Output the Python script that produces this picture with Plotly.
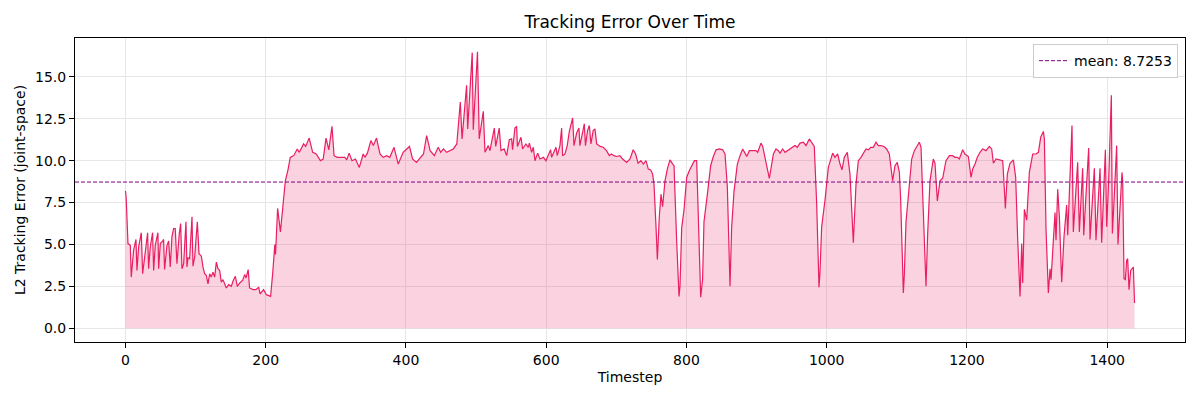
import plotly.graph_objects as go

timesteps = [
    0, 1, 3.6, 6.9, 8.3, 11.6, 15, 16.4, 18.8, 22.6, 24.5, 28.3, 31.6, 33, 35.4, 38.7, 40.2, 42.5, 46.3, 47.3,
    49.7, 53, 54.4, 55.8, 59.2, 61.6, 63.9, 66.3, 68.7, 71, 73.4, 76.8, 78.7, 80.6, 83, 86.3, 87.7, 89.2, 91.5, 94.9,
    96.3, 98.7, 102.5, 104.9, 108.2, 110.6, 112.9, 115.3, 117.7, 120.1, 122.4, 124.8, 127.2, 129.6, 131.9, 134.3, 136.7, 139.1, 143.8, 147.2,
    151, 153.3, 156.7, 159.5, 163, 167, 170, 172, 175, 177, 182, 186, 190, 192, 197, 201, 207, 210, 213, 214,
    217, 221, 225, 228, 232, 235, 240, 245, 248, 254, 257, 262, 267, 272, 278, 282, 286, 290, 294.5, 297.5,
    302, 306, 313, 315.5, 319, 323, 328, 333.5, 339, 341.5, 345, 350, 353.5, 358, 363, 367.5, 372.5, 377, 383, 389,
    396, 405, 409.5, 415, 425, 429.5, 434.5, 440.5, 446, 449.5, 453.5, 458, 463, 467.5, 472.5, 477.5, 480, 486.5, 488, 494.5,
    496, 502, 504.5, 510.3, 512.7, 517.4, 519.8, 526, 528, 533, 535.5, 540, 543.6, 547.4, 550.7, 552, 555.4, 557.8, 559, 564,
    566.4, 571, 574.5, 576, 579.2, 581.6, 584, 587.8, 591, 596, 599.6, 603, 606.3, 607.7, 611, 614, 615.8, 619.6, 622, 623.4,
    626.8, 630, 633, 637.7, 639.6, 643.4, 646.7, 648, 652, 654.3, 656, 659, 661.5, 663.8, 667, 669.5, 672, 677, 681.4, 686,
    690, 693, 696.6, 700.4, 705, 709, 714.7, 719.5, 724, 727.5, 731, 735, 738.5, 742.3, 745.6, 749, 751.8, 753.7, 756.6, 758.5,
    761.3, 763.7, 766, 769.4, 772.7, 776.5, 780.4, 782.3, 786, 789.4, 790.8, 793.2, 796.5, 800.3, 804, 807.5, 811.3, 814.6, 817, 820.3,
    823, 825, 830, 834.5, 838.3, 842.2, 847, 851.7, 855, 858.3, 862.1, 864.5, 867.8, 872.6, 876.4, 880.2, 883.5, 886, 889.7, 894.5,
    899.2, 901.6, 906.3, 908.7, 911, 914.4, 918.2, 921.5, 924, 927.7, 931, 933.4, 937.2, 940.6, 945.3, 950, 954.8, 958, 962, 966.7,
    970.5, 975.2, 978.5, 982.3, 985.7, 989, 990.4, 992.8, 997.6, 1002.3, 1005.6, 1008.5, 1011.8, 1015.6, 1019, 1021.8, 1025.1, 1029.4, 1033.2, 1038,
    1041.8, 1045.1, 1048.9, 1052.2, 1056, 1059.4, 1062.7, 1066.5, 1070.3, 1073.6, 1077.4, 1081.7, 1085.5, 1089.3, 1091.2, 1094, 1097.4, 1100.7, 1103.6, 1105.5,
    1109.3, 1110.7, 1113.1, 1116.9, 1121.2, 1125, 1128.3, 1132.1, 1134.5, 1137.8, 1141.6, 1144, 1147.3, 1152, 1154.4, 1157.8, 1161.6, 1165.4, 1170.1, 1174.9,
    1179.6, 1183, 1186.3, 1189.1, 1193.9, 1197.2, 1202, 1205.8, 1208.2, 1211.5, 1214.8, 1218.6, 1222.5, 1227.2, 1232, 1235.3, 1237.7, 1241.5, 1247.2, 1251,
    1253.4, 1254.8, 1257.6, 1261.4, 1266.2, 1269.5, 1272.4, 1275.7, 1278.1, 1279.5, 1281.9, 1285.2, 1289, 1293.8, 1298.5, 1301.9, 1305.2, 1309, 1310.4, 1312.8,
    1316.1, 1318.5, 1319.9, 1323.2, 1325.6, 1327, 1329.4, 1331.8, 1335.1, 1338.4, 1342.2, 1343.7, 1347, 1349.8, 1351.7, 1354.1, 1357.9, 1360.3, 1362.7, 1365,
    1366.5, 1369.8, 1373.6, 1375.5, 1379.3, 1381.7, 1384, 1387.4, 1389.8, 1392.1, 1394.5, 1397.4, 1399.3, 1402.1, 1405.9, 1407.4, 1410.2, 1413.5, 1415.4, 1418.3,
    1421.1, 1422.1, 1424, 1425.9, 1427.8, 1429.2, 1431.1, 1433.5, 1435.4, 1437.3, 1439,
]

errors = [
    8.2, 7.8, 5.05, 4.95, 3.05, 4.65, 5.3, 3.45, 4.85, 5.7, 3.25, 4.65, 5.7, 3.55, 4.85, 5.7, 3.45, 4.95, 5.7, 3.55,
    5.05, 5.2, 5.3, 3.5, 4.95, 5.2, 3.65, 5.45, 5.95, 5.95, 3.85, 5.65, 6.25, 3.55, 3.85, 6.35, 3.65, 4.2, 4.15, 6.65,
    3.7, 4.25, 6.35, 4.45, 4.3, 3.65, 3.25, 3.15, 2.65, 3.25, 3.05, 3.35, 3.05, 3.95, 3.55, 3.45, 2.75, 2.9, 2.4, 2.6,
    2.5, 2.8, 3.1, 2.5, 2.7, 2.85, 3.2, 3.0, 3.5, 2.4, 2.3, 2.3, 2.45, 2.05, 2.3, 2.0, 1.9, 3.3, 5.0, 4.4,
    7.15, 5.75, 7.6, 8.8, 9.5, 10.2, 10.3, 10.7, 10.5, 11.0, 10.85, 11.35, 10.5, 10.4, 10.0, 10.1, 11.35, 10.65, 12.05, 10.3,
    10.2, 10.2, 10.2, 10.05, 10.45, 10.0, 10.1, 9.6, 10.4, 10.2, 10.45, 11.2, 10.9, 11.35, 10.4, 10.2, 10.3, 10.2, 10.8, 9.8,
    10.5, 10.85, 10.1, 9.9, 10.4, 11.5, 10.6, 10.3, 10.8, 10.5, 10.7, 10.5, 10.6, 10.7, 11.0, 13.5, 11.3, 14.5, 11.9, 16.45,
    11.85, 16.5, 11.3, 12.95, 10.5, 10.9, 10.6, 11.95, 10.85, 11.95, 10.6, 10.7, 10.3, 11.25, 11.3, 10.65, 11.95, 12.05, 10.85, 11.4,
    10.7, 11.0, 10.8, 11.05, 10.5, 10.8, 10.0, 10.45, 10.1, 10.2, 10.0, 10.3, 10.65, 10.2, 10.5, 10.8, 10.3, 10.9, 11.95, 10.3,
    10.4, 10.9, 11.75, 12.55, 10.9, 11.65, 11.95, 10.9, 11.7, 12.2, 10.9, 11.8, 12.1, 11.0, 11.8, 11.9, 11.0, 10.85, 10.8, 10.6,
    10.3, 10.4, 10.3, 10.25, 10.3, 10.1, 9.9, 10.1, 10.65, 10.4, 9.85, 10.0, 9.8, 10.0, 9.5, 9.45, 9.2, 8.6, 6.05, 4.1,
    6.65, 8.0, 7.25, 8.8, 9.5, 10.05, 9.8, 9.7, 5.25, 1.9, 2.5, 6.0, 7.05, 9.0, 9.4, 9.7, 10.0, 10.0, 6.25, 1.85,
    2.9, 6.35, 8.05, 9.7, 10.25, 10.65, 10.7, 10.65, 10.4, 8.45, 2.5, 6.05, 8.15, 9.8, 10.3, 10.7, 10.45, 10.25, 10.6, 10.6,
    10.6, 10.5, 11.05, 10.85, 10.3, 9.7, 8.95, 9.9, 10.4, 10.7, 10.6, 10.45, 10.7, 10.5, 10.65, 10.8, 10.9, 10.8, 11.05, 11.1,
    10.9, 11.3, 11.1, 10.85, 7.45, 2.45, 3.3, 6.05, 7.65, 9.6, 10.05, 10.45, 10.2, 10.4, 9.8, 9.45, 10.2, 10.5, 9.2, 5.1,
    8.6, 10.0, 10.2, 10.4, 10.7, 10.65, 10.8, 10.8, 11.1, 10.9, 10.9, 10.85, 10.7, 10.4, 9.8, 8.8, 9.7, 9.9, 9.3, 7.65,
    2.1, 3.2, 6.35, 8.05, 10.1, 10.6, 10.85, 11.1, 10.8, 6.85, 2.5, 5.65, 8.8, 10.1, 9.85, 7.6, 8.8, 8.95, 10.0, 10.3,
    10.3, 10.2, 10.2, 10.1, 10.65, 10.4, 10.25, 9.0, 9.5, 9.8, 10.2, 10.5, 10.7, 10.6, 10.85, 10.7, 9.85, 10.1, 10.05, 10.0,
    8.25, 7.15, 9.2, 9.85, 10.05, 9.0, 5.25, 1.9, 5.05, 2.7, 7.1, 6.45, 9.3, 10.4, 10.4, 10.5, 11.4, 11.75, 11.3, 5.85,
    2.1, 3.55, 2.9, 5.25, 6.9, 5.25, 8.3, 6.65, 2.75, 5.45, 7.35, 5.55, 9.8, 12.1, 5.75, 7.45, 9.9, 5.75, 7.7, 9.55,
    5.55, 8.2, 10.75, 5.3, 8.2, 9.55, 5.25, 7.85, 9.55, 5.1, 7.65, 10.65, 6.05, 8.8, 13.9, 5.65, 8.0, 10.9, 5.0, 7.65,
    9.3, 8.8, 2.95, 2.9, 4.05, 4.15, 2.3, 3.45, 3.55, 3.65, 1.5,
]

MEAN_ERROR = 8.7253
x_ticks = [0, 200, 400, 600, 800, 1000, 1200, 1400]
y_ticks = [0.0, 2.5, 5.0, 7.5, 10.0, 12.5, 15.0]

assert len(timesteps) == len(errors), (len(timesteps), len(errors))

LINE_COLOR = "#E91E63"
FILL_COLOR = "rgba(233,30,99,0.2)"
MEAN_COLOR = "#800080"
FONT = "DejaVu Sans"

fig = go.Figure()
fig.add_trace(go.Scatter(
    x=timesteps, y=errors, mode="lines",
    line=dict(color=LINE_COLOR, width=1.2),
    fill="tozeroy", fillcolor=FILL_COLOR,
    showlegend=False, hoverinfo="x+y",
))

fig.add_shape(
    type="line", xref="paper", x0=0, x1=1, yref="y", y0=MEAN_ERROR, y1=MEAN_ERROR,
    line=dict(color=MEAN_COLOR, width=1, dash="4px,2px"),
    showlegend=True, name=f"mean: {MEAN_ERROR:.4f}", layer="above",
)

tmax = max(timesteps)
ymax = max(errors)
xpad = 0.05 * tmax
ypad = 0.05 * ymax

axis_common = dict(
    showline=True, linecolor="black", linewidth=1, mirror=True,
    ticks="outside", ticklen=5, tickwidth=1, tickcolor="black",
    showgrid=True, gridcolor="#e6e6e6", gridwidth=1, zeroline=False,
    tickfont=dict(family=FONT, size=14, color="black"),
)

fig.update_layout(
    width=1200, height=400,
    margin=dict(l=75, r=15, t=38, b=58),
    paper_bgcolor="white", plot_bgcolor="white",
    font=dict(family=FONT, size=14, color="black"),
    title=dict(text="Tracking Error Over Time", x=0.5, xref="paper", xanchor="center",
               y=1 - 22 / 400, yref="container", yanchor="middle",
               font=dict(family=FONT, size=17, color="black")),
    xaxis=dict(range=[-xpad, tmax + xpad], tickvals=x_ticks,
               ticktext=[str(v) for v in x_ticks],
               title=dict(text="Timestep", font=dict(family=FONT, size=14), standoff=5),
               **axis_common),
    yaxis=dict(range=[-ypad, ymax + ypad], tickvals=y_ticks,
               ticktext=[f"{v:.1f}" for v in y_ticks],
               title=dict(text="L2 Tracking Error (joint-space)", font=dict(family=FONT, size=14), standoff=6),
               **axis_common),
    legend=dict(x=0.9937, y=0.98, xanchor="right", yanchor="top",
                bgcolor="white", bordercolor="#cccccc", borderwidth=1,
                font=dict(family=FONT, size=14, color="black")),
    showlegend=True,
)

fig.write_html("out.html")
